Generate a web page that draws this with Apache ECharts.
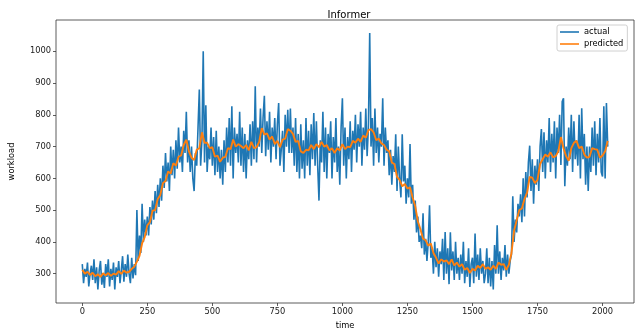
<!DOCTYPE html>
<html>
<head>
<meta charset="utf-8">
<script src="https://cdn.jsdelivr.net/npm/echarts@6/dist/echarts.min.js"></script>
<style>
html,body{margin:0;padding:0;background:#fff;}
#chart{width:639px;height:335px;}
</style>
</head>
<body>
<div id="chart"></div>
<script>
// time step between consecutive samples
const actualStep = 5;
const predictedStep = 10;

// actual workload, sampled every 5 time units from t=0
const actualValues = [
330,270,315,290,335,260,300,325,280,345,
270,320,250,310,340,265,300,255,330,290,
345,260,315,280,335,250,320,290,340,270,
310,355,275,330,290,360,300,270,350,285,
330,295,500,340,420,365,520,400,470,420,
480,420,510,455,530,470,560,490,580,510,
600,530,640,570,680,590,650,560,700,610,
690,600,720,630,760,650,700,620,750,680,
810,650,720,620,700,600,560,680,640,760,
880,640,720,1000,650,830,620,700,660,760,
640,730,610,750,620,700,600,690,580,720,
620,760,650,790,640,827,600,760,680,740,
650,810,640,760,620,740,600,720,660,770,
640,780,660,890,650,760,700,820,680,790,
860,670,780,690,810,650,760,700,790,660,
770,837,640,690,750,620,800,700,816,680,
820,680,760,640,790,620,740,600,770,630,
720,600,790,640,750,610,770,660,806,640,
780,640,530,720,650,810,620,760,600,740,
680,780,600,730,650,790,620,700,580,760,
852,640,760,600,730,660,780,620,750,690,
800,650,770,700,810,640,760,690,820,670,
760,1058,700,790,640,820,680,760,650,740,
700,852,640,760,680,720,610,690,580,670,
620,739,560,700,600,540,739,590,640,520,
600,540,708,520,580,470,530,430,480,400,
420,380,490,360,410,340,400,515,350,380,
300,400,320,380,290,370,330,410,280,431,
300,380,267,430,310,370,280,400,300,350,
280,360,300,400,270,340,290,380,258,330,
350,270,426,290,360,280,380,300,340,270,
300,380,270,350,260,340,250,390,300,452,
300,370,280,350,310,390,290,360,300,340,
360,544,400,470,430,520,480,550,462,600,
480,620,540,650,703,560,660,520,640,580,
660,560,700,755,620,745,600,720,650,790,
620,740,650,780,600,760,680,800,642,842,
852,575,700,640,760,660,800,620,780,660,
720,640,800,600,821,660,740,580,700,560,
700,620,760,640,780,610,740,650,790,620,
606,827,600,837,700
];

// predicted workload, sampled every 10 time units from t=0
const predictedValues = [
312,300,306,296,303,292,298,290,301,295,
302,293,300,297,308,299,310,303,306,315,
322,338,356,395,415,452,462,498,500,535,
548,585,592,622,615,648,640,668,672,705,
722,685,665,658,690,695,745,712,712,695,
698,668,672,652,665,668,695,692,722,700,
708,702,695,705,688,715,695,698,715,758,
738,742,722,732,708,718,698,722,725,755,
750,740,715,718,685,680,690,688,705,692,
708,698,715,700,705,688,695,680,695,688,
708,692,700,698,718,712,725,715,735,728,
752,755,745,720,725,710,705,690,685,650,
645,605,595,575,582,568,572,540,512,465,
440,410,405,388,395,365,350,332,345,338,
342,330,345,326,335,322,330,312,318,302,
315,310,325,318,330,315,320,312,325,315,
335,328,330,312,328,365,435,468,500,505,
535,555,605,602,585,595,645,660,675,668,
682,666,670,685,730,695,670,655,695,712,
718,695,700,675,665,668,695,692,690,665,
672,685,718
];

const xTicks = [0,250,500,750,1000,1250,1500,1750,2000];
const yTicks = [300,400,500,600,700,800,900,1000];

const actualData = actualValues.map((v,i)=>[i*actualStep, v]);
const predictedData = predictedValues.map((v,i)=>[i*predictedStep, v]);

const FONT = 'DejaVu Sans';
const FS = 8.3;
const chart = echarts.init(document.getElementById('chart'), null, {renderer:'canvas'});
chart.setOption({
  animation:false,
  backgroundColor:'#fff',
  title:{
    text:'Informer', left:344, top:5, textAlign:'center',
    textStyle:{fontFamily:FONT, fontSize:10, fontWeight:'normal', color:'#000'}
  },
  legend:{
    orient:'vertical', left:557, top:25,
    data:[{name:'actual', icon:'rect'},{name:'predicted', icon:'rect'}],
    itemWidth:19, itemHeight:1.6, itemGap:4,
    padding:[3,4,3,3],
    borderColor:'#d0d0d0', borderWidth:1, borderRadius:2,
    backgroundColor:'#fff',
    textStyle:{fontFamily:FONT, fontSize:FS, color:'#000'}
  },
  grid:{left:55, top:20, width:579, height:289, show:true, borderColor:'#333', borderWidth:0.8, containLabel:false},
  xAxis:{
    type:'value', min:-101, max:2121,
    name:'time', nameLocation:'middle', nameGap:19,
    nameTextStyle:{fontFamily:FONT, fontSize:FS, color:'#000'},
    axisLine:{show:false, onZero:false},
    axisTick:{show:true, length:3, lineStyle:{color:'#333', width:0.8}, customValues:xTicks},
    axisLabel:{fontFamily:FONT, fontSize:FS, color:'#222', margin:5, customValues:xTicks, formatter:v=>String(v)},
    splitLine:{show:false}
  },
  yAxis:{
    type:'value', min:207.6, max:1098.6,
    name:'workload', nameLocation:'middle', nameGap:40, nameRotate:90,
    nameTextStyle:{fontFamily:FONT, fontSize:FS, color:'#000'},
    axisLine:{show:false, onZero:false},
    axisTick:{show:true, length:3, lineStyle:{color:'#333', width:0.8}, customValues:yTicks},
    axisLabel:{fontFamily:FONT, fontSize:FS, color:'#222', margin:5, customValues:yTicks, formatter:v=>String(v)},
    splitLine:{show:false}
  },
  series:[
    {name:'actual', type:'line', data:actualData, showSymbol:false, silent:true,
     color:'#1f77b4', lineStyle:{color:'#1f77b4', width:1.6}, z:2},
    {name:'predicted', type:'line', data:predictedData, showSymbol:false, silent:true,
     color:'#ff7f0e', lineStyle:{color:'#ff7f0e', width:1.9}, z:3}
  ]
});
</script>
</body>
</html>
